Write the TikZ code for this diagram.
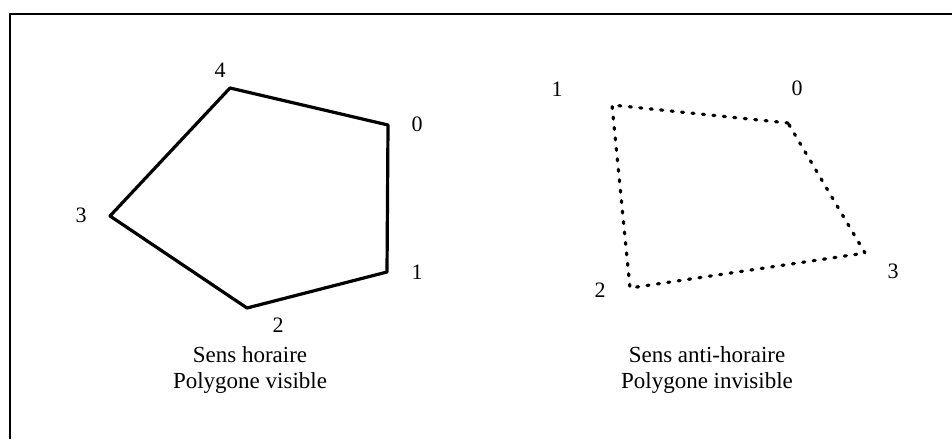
\documentclass[tikz,border=0pt]{standalone}
\usepackage{fontspec}
\setmainfont{Liberation Serif}
\usepackage{tikz}
\usetikzlibrary{positioning}

\begin{document}
\begin{tikzpicture}[x=1pt, y=-1pt, line join=round]
\tikzstyle{every node}=[font=\fontsize{22}{26}\selectfont, inner sep=0pt];
\tikzstyle{caption}=[align=center, font=\fontsize{23}{26}\selectfont];
\tikzstyle{vis}=[line width=3.2pt];
\tikzstyle{invis}=[line width=3.2pt, line cap=round, dash pattern=on 2pt off 8.5pt];
\useasboundingbox (0,0) rectangle (952,439);
\draw [line width=2.6pt] (10,439) -- (10,14) -- (952,14);
% clockwise polygon
\coordinate (a0) at (388,125);
\coordinate (a1) at (387,272);
\coordinate (a2) at (247,308);
\coordinate (a3) at (110,216);
\coordinate (a4) at (230,88);
\draw [vis] (a0) -- (a1) -- (a2) -- (a3) -- (a4) -- cycle;
\node (la0) at (417,124) {0};
\node (la1) at (417,272) {1};
\node (la2) at (278,325) {2};
\node (la3) at (81,215) {3};
\node (la4) at (220,70) {4};
\node[caption] (capa) at (250,370) {Sens horaire\\Polygone visible};
% counter-clockwise polygon
\coordinate (b0) at (788,123);
\coordinate (b1) at (612,105);
\coordinate (b2) at (630,288);
\coordinate (b3) at (865,253);
\draw [invis] (b0) -- (b1) -- (b2) -- (b3) -- cycle;
\node (lb0) at (797,88) {0};
\node (lb1) at (557,89) {1};
\node (lb2) at (600,290) {2};
\node (lb3) at (893,271) {3};
\node[caption] (capb) at (707,370) {Sens anti-horaire\\Polygone invisible};
\end{tikzpicture}
\end{document}
